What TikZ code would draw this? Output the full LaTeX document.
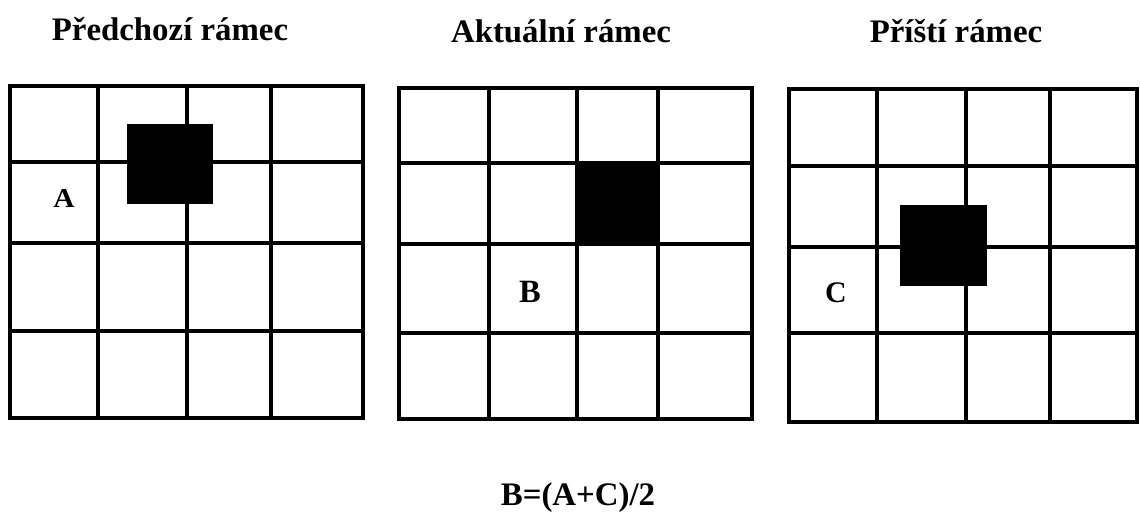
\documentclass[tikz,border=0pt]{standalone}
\usepackage{fontspec}
\setmainfont{Liberation Serif}
\usetikzlibrary{calc}
\definecolor{gridink}{HTML}{000000}
\definecolor{blockink}{HTML}{000000}

\tikzset{
    titletext/.style={anchor=base, inner sep=0pt, font=\fontsize{18.7}{22}\selectfont\bfseries},
    cellletter/.style={anchor=base, inner sep=0pt, font=\fontsize{17}{20}\selectfont\bfseries},
    gridline/.style={gridink, line width=1.9pt, line cap=rect}
}

\begin{document}
\begin{tikzpicture}[
    x=0.02cm, y=-0.02cm,
    line join=miter
]

    % White page, fixes the margins
    \fill[white] (0, 0) rectangle (1140, 511);
    \useasboundingbox (0, 0) rectangle (1140, 511);

    % Titles over the three frames
    \node[titletext] (prevtitle) at (170, 40) {Předchozí rámec};
    \node[titletext] (currtitle) at (561, 42) {Aktuální rámec};
    \node[titletext] (nexttitle) at (956, 42) {Příští rámec};

    % Frame 1: previous frame
    \foreach \gx in {10, 98, 187, 271, 363} {
        \draw[gridline] (\gx, 86) -- (\gx, 418);
    }
    \foreach \gy in {86, 162, 243, 331, 418} {
        \draw[gridline] (10, \gy) -- (363, \gy);
    }
    \fill[blockink] (127, 124) rectangle (213, 204);
    \node[cellletter, font=\fontsize{15.5}{18}\selectfont\bfseries, xscale=1.08] (pixA) at (64, 207) {A};

    % Frame 2: current frame
    \foreach \gx in {399, 489, 577, 658, 752} {
        \draw[gridline] (\gx, 88) -- (\gx, 419);
    }
    \foreach \gy in {88, 163, 244, 333, 419} {
        \draw[gridline] (399, \gy) -- (752, \gy);
    }
    \fill[blockink] (577, 163) rectangle (658, 244);
    \node[cellletter, font=\fontsize{18.5}{21}\selectfont\bfseries] (pixB) at (530, 302) {B};

    % Frame 3: next frame
    \foreach \gx in {789, 877, 966, 1050, 1137} {
        \draw[gridline] (\gx, 89) -- (\gx, 422);
    }
    \foreach \gy in {89, 166, 247, 333, 422} {
        \draw[gridline] (789, \gy) -- (1137, \gy);
    }
    \fill[blockink] (900, 205) rectangle (987, 286);
    \node[cellletter] (pixC) at (836, 302) {C};

    % Interpolation rule
    \node[titletext] (rule) at (578, 505) {B=(A+C)/2};

\end{tikzpicture}
\end{document}
